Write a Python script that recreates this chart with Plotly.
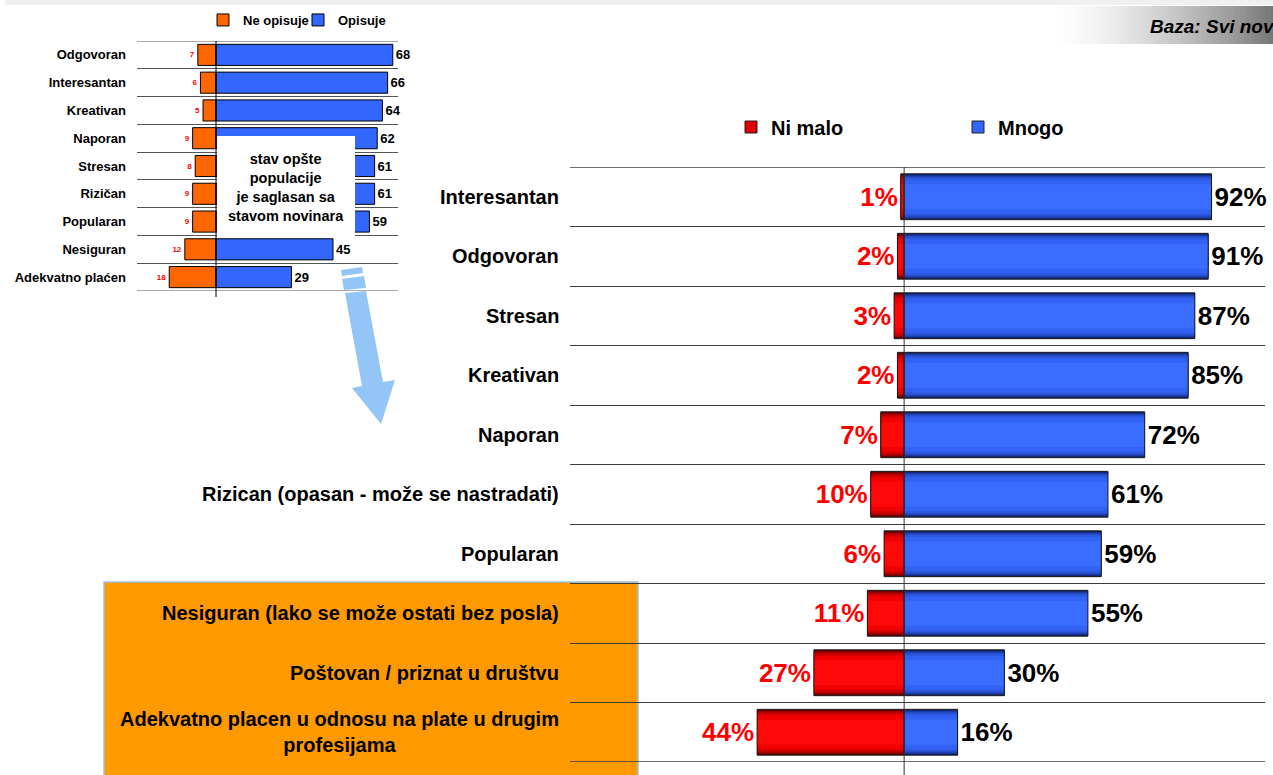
import plotly.graph_objects as go

W, H = 1273, 775
FONT = "Liberation Sans, Arial, sans-serif"

# ---- main chart: how well each word describes the profession ----
attributes = [
    "Interesantan",
    "Odgovoran",
    "Stresan",
    "Kreativan",
    "Naporan",
    "Rizican (opasan - može se nastradati)",
    "Popularan",
    "Nesiguran (lako se može ostati bez posla)",
    "Poštovan / priznat u društvu",
    "Adekvatno placen u odnosu na plate u drugim<br>profesijama",
]
ni_malo = [1, 2, 3, 2, 7, 10, 6, 11, 27, 44]
mnogo = [92, 91, 87, 85, 72, 61, 59, 55, 30, 16]

# ---- inset chart: general population ----
inset_attributes = [
    "Odgovoran", "Interesantan", "Kreativan", "Naporan", "Stresan",
    "Rizičan", "Popularan", "Nesiguran", "Adekvatno plaćen",
]
ne_opisuje = [7, 6, 5, 9, 8, 9, 9, 12, 18]
opisuje = [68, 66, 64, 62, 61, 61, 59, 45, 29]


def px(x):
    return x / W


def py(y):
    return 1 - y / H


fig = go.Figure()

# shaded bars: widest/darkest first, brighter and narrower layers on top
layer_widths = [0.77, 0.745, 0.715, 0.68, 0.635, 0.57, 0.42]
red_shades = ["#520000", "#720000", "#920000", "#b40000", "#d40000", "#f00000", "#ff0808"]
blue_shades = ["#0b1c60", "#132a80", "#1b3aa2", "#2449c0", "#2c57de", "#3262f4", "#3a6cff"]

for values, sign, shades in ((ni_malo, -1, red_shades), (mnogo, 1, blue_shades)):
    xs = [sign * v for v in values]
    for w, c in zip(layer_widths, shades):
        fig.add_trace(go.Bar(
            x=xs, y=attributes, orientation="h", width=w,
            marker=dict(color=c, line=dict(width=0)),
            showlegend=False, hoverinfo="skip", xaxis="x", yaxis="y",
        ))

# outlines and value labels of the main bars
fig.add_trace(go.Bar(
    x=[-v for v in ni_malo], y=attributes, orientation="h", width=0.77,
    marker=dict(color="rgba(0,0,0,0)", line=dict(color="#1a1a1a", width=1)),
    text=[f"{v}%" for v in ni_malo], textposition="outside",
    textfont=dict(family=FONT, size=26, color="#ff0000", weight="bold"),
    constraintext="none", cliponaxis=False,
    showlegend=False, hoverinfo="skip", xaxis="x", yaxis="y",
))
fig.add_trace(go.Bar(
    x=mnogo, y=attributes, orientation="h", width=0.77,
    marker=dict(color="rgba(0,0,0,0)", line=dict(color="#1a1a1a", width=1)),
    text=[f"{v}%" for v in mnogo], textposition="outside",
    textfont=dict(family=FONT, size=26, color="#000000", weight="bold"),
    constraintext="none", cliponaxis=False,
    showlegend=False, hoverinfo="skip", xaxis="x", yaxis="y",
))

# legend entries of the main chart
fig.add_trace(go.Bar(x=[None], y=[None], name="Ni malo", orientation="h",
                     marker=dict(color="#e00000", line=dict(color="#222", width=1)),
                     legend="legend", xaxis="x", yaxis="y"))
fig.add_trace(go.Bar(x=[None], y=[None], name="Mnogo", orientation="h",
                     marker=dict(color="#3366ff", line=dict(color="#222", width=1)),
                     legend="legend", xaxis="x", yaxis="y"))

# inset bars
fig.add_trace(go.Bar(
    x=[-v for v in ne_opisuje], y=inset_attributes, orientation="h", width=0.76,
    name="Ne opisuje",
    marker=dict(color="#ff6600", line=dict(color="#000000", width=1)),
    text=[str(v) for v in ne_opisuje], textposition="outside",
    textfont=dict(family=FONT, size=8, color="#ff0000", weight="bold"),
    constraintext="none", cliponaxis=False,
    legend="legend2", hoverinfo="skip", xaxis="x2", yaxis="y2",
))
fig.add_trace(go.Bar(
    x=opisuje, y=inset_attributes, orientation="h", width=0.76,
    name="Opisuje",
    marker=dict(color="#3366ff", line=dict(color="#000000", width=1)),
    text=[str(v) for v in opisuje], textposition="outside",
    textfont=dict(family=FONT, size=13, color="#000000", weight="bold"),
    constraintext="none", cliponaxis=False,
    legend="legend2", hoverinfo="skip", xaxis="x2", yaxis="y2",
))

shapes = []

# orange panel behind the last three categories
shapes.append(dict(type="rect", xref="paper", yref="paper",
                   x0=px(104), x1=px(638), y0=py(776), y1=py(582),
                   fillcolor="#ff9900", line=dict(color="#9dc3e6", width=1.5),
                   layer="below"))

# header strip and shaded base box
shapes.append(dict(type="rect", xref="paper", yref="paper",
                   x0=px(5), x1=1, y0=py(5), y1=1,
                   fillcolor="#f0f0f0", line=dict(width=0), layer="below"))
n_strips = 60
x_start, x_end = 1050, 1273
for i in range(n_strips):
    t = i / (n_strips - 1)
    g = int(round(255 - (t ** 1.5) * 135))
    xa = x_start + (x_end - x_start) * i / n_strips
    xb = x_start + (x_end - x_start) * (i + 1) / n_strips + 0.6
    shapes.append(dict(type="rect", xref="paper", yref="paper",
                       x0=px(xa), x1=px(xb), y0=py(44), y1=py(6),
                       fillcolor=f"rgb({g},{g},{g})", line=dict(width=0), layer="below"))

# outer row separators (top and bottom) of both charts
for edge in (-0.5, len(attributes) - 0.5):
    shapes.append(dict(type="line", xref="x domain", yref="y", x0=0, x1=1,
                       y0=edge, y1=edge, line=dict(color="#3c3c3c", width=1.3),
                       layer="below"))
for edge in (-0.5, len(inset_attributes) - 0.5):
    shapes.append(dict(type="line", xref="x2 domain", yref="y2", x0=0, x1=1,
                       y0=edge, y1=edge, line=dict(color="#555555", width=1),
                       layer="below"))

# main zero line
shapes.append(dict(type="line", xref="x", yref="paper", x0=0, x1=0,
                   y0=0, y1=py(167), line=dict(color="#333333", width=1), layer="above"))

# callout box over the inset
shapes.append(dict(type="rect", xref="paper", yref="paper",
                   x0=px(217), x1=px(355), y0=py(238), y1=py(136),
                   fillcolor="#ffffff", line=dict(width=0), layer="above"))
# inset zero line
shapes.append(dict(type="line", xref="x2", yref="paper", x0=0, x1=0,
                   y0=py(297), y1=py(41), line=dict(color="#000000", width=1), layer="above"))


def poly(points):
    return "M " + " L ".join(f"{px(x):.5f},{py(y):.5f}" for x, y in points) + " Z"


arrow_color = "#93c5f6"
arrow_parts = [
    [(341, 270), (362, 267), (363, 273), (342, 276)],
    [(342, 279), (364, 276), (366, 288), (344, 290)],
    [(345, 293), (366, 291), (383, 382), (395, 380), (381, 424), (352, 388), (362, 386)],
]
for pts in arrow_parts:
    shapes.append(dict(type="path", xref="paper", yref="paper", path=poly(pts),
                       fillcolor=arrow_color, line=dict(width=0), layer="above"))

annotations = []
for name in attributes:
    annotations.append(dict(
        x=px(561), xref="paper", xanchor="right", y=name, yref="y",
        text=name, showarrow=False, align="center",
        font=dict(family=FONT, size=20, color="#000000", weight="bold"),
    ))

annotations.append(dict(
    x=px(286), xref="paper", xanchor="center", y=py(188), yref="paper",
    yanchor="middle",
    text="stav opšte<br>populacije<br>je saglasan sa<br>stavom novinara",
    showarrow=False, align="center",
    font=dict(family=FONT, size=14.5, color="#000000", weight="bold"),
))
annotations.append(dict(
    x=px(1277), xref="paper", xanchor="right", y=py(27), yref="paper",
    yanchor="middle",
    text="<i>Baza: Svi nov</i>", showarrow=False,
    font=dict(family=FONT, size=19, color="#000000", weight="bold"),
))

fig.update_layout(
    width=W, height=H,
    margin=dict(l=0, r=0, t=0, b=0),
    paper_bgcolor="#ffffff", plot_bgcolor="rgba(0,0,0,0)",
    barmode="overlay",
    font=dict(family=FONT),
    xaxis=dict(domain=[px(570), px(1265)], range=[-100, 108], visible=False,
               fixedrange=True),
    yaxis=dict(domain=[py(762), py(167)], type="category", categoryorder="array",
               categoryarray=attributes, range=[9.5, -0.5], tickson="boundaries",
               showgrid=True, gridcolor="#3c3c3c", gridwidth=1.3,
               showticklabels=False, ticks="", zeroline=False, showline=False,
               fixedrange=True),
    xaxis2=dict(domain=[px(137), px(398)], range=[-30.4, 70], visible=False,
                anchor="y2", fixedrange=True),
    yaxis2=dict(domain=[py(291), py(41)], type="category", categoryorder="array",
                categoryarray=inset_attributes, range=[8.5, -0.5], tickson="boundaries",
                showgrid=True, gridcolor="#555555", gridwidth=1,
                showticklabels=True, ticks="", ticklabelstandoff=10,
                tickfont=dict(family=FONT, size=13, color="#000000", weight="bold"),
                zeroline=False, showline=False, anchor="x2", fixedrange=True),
    legend=dict(orientation="h", x=px(731), xanchor="left", y=py(127), yanchor="middle",
                entrywidth=182, entrywidthmode="pixels", bgcolor="rgba(0,0,0,0)",
                font=dict(family=FONT, size=20, color="#000000", weight="bold"),
                itemclick=False, itemdoubleclick=False),
    legend2=dict(orientation="h", x=px(203), xanchor="left", y=py(20), yanchor="middle",
                 entrywidth=50, entrywidthmode="pixels", bgcolor="rgba(0,0,0,0)",
                 font=dict(family=FONT, size=13, color="#000000", weight="bold"),
                 itemclick=False, itemdoubleclick=False),
    shapes=shapes,
    annotations=annotations,
    showlegend=True,
)

fig.write_html("out.html", config={"displayModeBar": False})
